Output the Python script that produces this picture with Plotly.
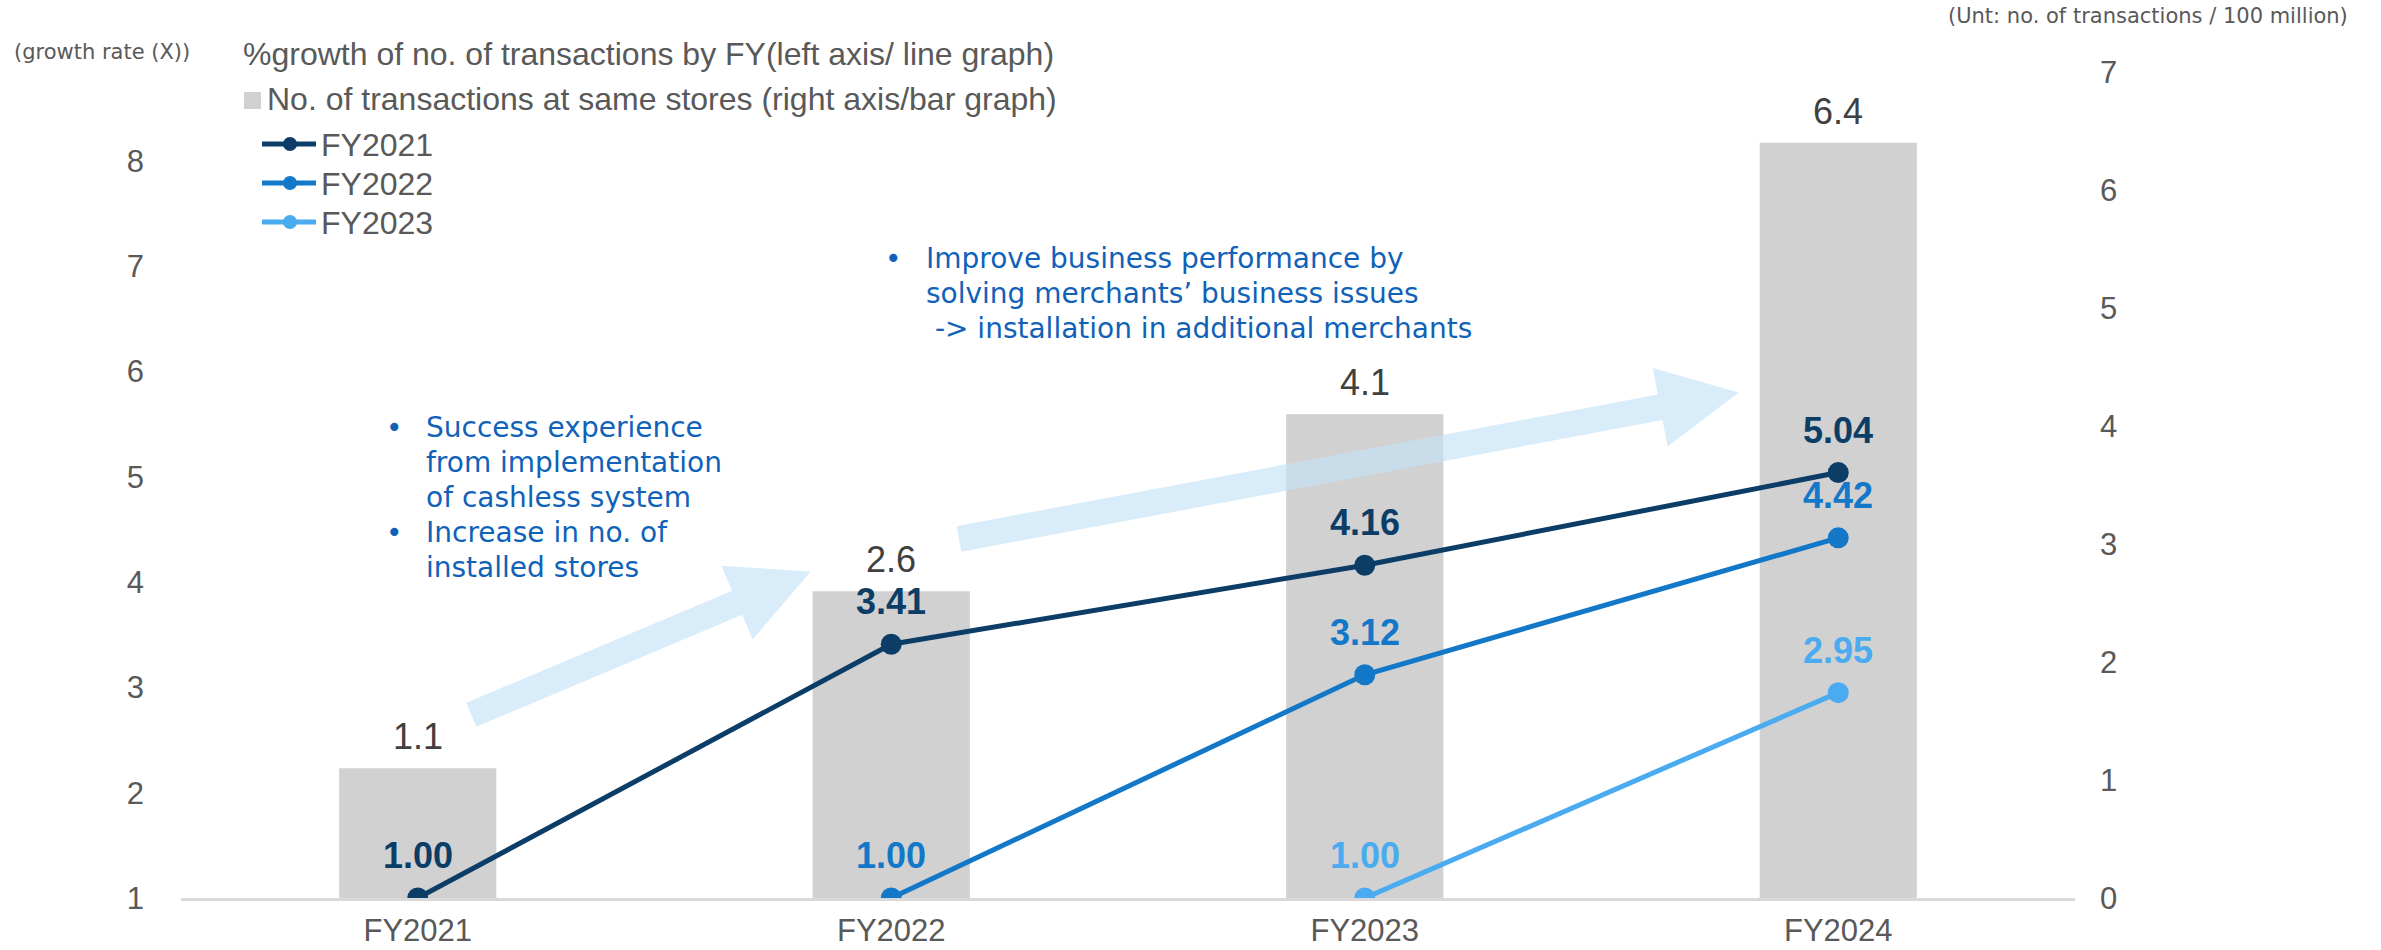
import math
import plotly.graph_objects as go

# ---- data -----------------------------------------------------------------
fiscal_years = ["FY2021", "FY2022", "FY2023", "FY2024"]
same_store_transactions = [1.1, 2.6, 4.1, 6.4]        # right axis, 100 million
growth_fy2021 = [1.00, 3.41, 4.16, 5.04]               # left axis, growth (X)
growth_fy2022 = [None, 1.00, 3.12, 4.42]
growth_fy2023 = [None, None, 1.00, 2.95]

series_names = ["FY2021", "FY2022", "FY2023"]
series_values = [growth_fy2021, growth_fy2022, growth_fy2023]
series_colors = ["#0b3d66", "#1478c8", "#4aabf0"]

left_ticks = [1, 2, 3, 4, 5, 6, 7, 8]
right_ticks = [0, 1, 2, 3, 4, 5, 6, 7]

legend_line_title = "%growth of no. of transactions by FY(left axis/ line graph)"
legend_bar_title = "No. of transactions at same stores (right axis/bar graph)"
left_axis_note = "(growth rate (X))"
right_axis_note = "(Unt: no. of transactions / 100 million)"

note_left = [
    ["Success experience", "from implementation", "of cashless system"],
    ["Increase in no. of", "installed stores"],
]
note_right = [
    ["Improve business performance by", "solving merchants\u2019 business issues",
     "\u00a0-> installation in additional merchants"],
]

# ---- geometry / style -----------------------------------------------------
W, H = 2381, 950
ML, MR, MT, MB = 181, 306, 72, 52
PW, PH = W - ML - MR, H - MT - MB
LEFT_RANGE = [1, 8.844]
RIGHT_RANGE = [0, 7]
X_RANGE = [-0.5, len(fiscal_years) - 0.5]

SANS = "Liberation Sans, Arial, sans-serif"
NOTE_FONT = "DejaVu Sans, Verdana, sans-serif"
GREY_TEXT = "#595959"
BAR_COLOR = "#d1d1d1"
NOTE_BLUE = "#0f62b8"


def paper_x(px):
    return (px - ML) / PW


def paper_y(py):
    return (MT + PH - py) / PH


def idx_to_px(i):
    return ML + (i - X_RANGE[0]) / (X_RANGE[1] - X_RANGE[0]) * PW


def left_to_py(v):
    return MT + PH * (1 - (v - LEFT_RANGE[0]) / (LEFT_RANGE[1] - LEFT_RANGE[0]))


fig = go.Figure()

# bars: same-store transactions on the right-hand axis
fig.add_trace(go.Bar(
    x=fiscal_years, y=same_store_transactions, yaxis="y",
    marker=dict(color=BAR_COLOR, line=dict(width=0)),
    width=0.332, hoverinfo="skip", showlegend=False,
))

# growth lines on the left-hand axis (overlaying, so drawn above the bars)
for name, vals, col in zip(series_names, series_values, series_colors):
    fig.add_trace(go.Scatter(
        x=fiscal_years, y=vals, yaxis="y2", name=name,
        mode="lines+markers",
        line=dict(color=col, width=5),
        marker=dict(color=col, size=21),
        connectgaps=False, showlegend=False,
    ))

annotations = []

# value labels above the bars
for fy, v in zip(fiscal_years, same_store_transactions):
    annotations.append(dict(
        x=fy, y=v, xref="x", yref="y", text=f"{v:.1f}", showarrow=False,
        yanchor="middle", yshift=31.5,
        font=dict(family=SANS, size=36, color="#404040"),
    ))

# value labels above the line markers
for vals, col in zip(series_values, series_colors):
    for fy, v in zip(fiscal_years, vals):
        if v is None:
            continue
        annotations.append(dict(
            x=fy, y=v, xref="x", yref="y2", text=f"<b>{v:.2f}</b>",
            showarrow=False, yanchor="middle", yshift=42.5,
            font=dict(family=SANS, size=36, color=col),
        ))

# axis notes
annotations.append(dict(
    x=paper_x(12), y=paper_y(52), xref="paper", yref="paper",
    text=left_axis_note, showarrow=False, xanchor="left", yanchor="middle",
    font=dict(family=NOTE_FONT, size=21, color=GREY_TEXT),
))
annotations.append(dict(
    x=paper_x(2350), y=paper_y(16), xref="paper", yref="paper",
    text=right_axis_note, showarrow=False, xanchor="right", yanchor="middle",
    font=dict(family=NOTE_FONT, size=21, color=GREY_TEXT),
))

shapes = []

# ---- legend block ---------------------------------------------------------
LEG_F = 32
annotations.append(dict(
    x=paper_x(241), y=paper_y(65 - 0.35 * LEG_F), xref="paper", yref="paper",
    text=legend_line_title, showarrow=False, xanchor="left", yanchor="middle",
    font=dict(family=SANS, size=LEG_F, color=GREY_TEXT),
))
shapes.append(dict(
    type="rect", xref="paper", yref="paper",
    x0=paper_x(244), x1=paper_x(261), y0=paper_y(109), y1=paper_y(92),
    fillcolor=BAR_COLOR, line=dict(width=0),
))
annotations.append(dict(
    x=paper_x(265), y=paper_y(110 - 0.35 * LEG_F), xref="paper", yref="paper",
    text=legend_bar_title, showarrow=False, xanchor="left", yanchor="middle",
    font=dict(family=SANS, size=LEG_F, color=GREY_TEXT),
))
for k, (name, col) in enumerate(zip(series_names, series_colors)):
    cy = 144 + 39 * k
    shapes.append(dict(
        type="line", xref="paper", yref="paper",
        x0=paper_x(262), x1=paper_x(316), y0=paper_y(cy), y1=paper_y(cy),
        line=dict(color=col, width=5),
    ))
    shapes.append(dict(
        type="circle", xref="paper", yref="paper",
        xsizemode="pixel", ysizemode="pixel",
        xanchor=paper_x(290), yanchor=paper_y(cy),
        x0=-7, x1=7, y0=-7, y1=7,
        fillcolor=col, line=dict(width=0),
    ))
    annotations.append(dict(
        x=paper_x(319), y=paper_y(cy + 1), xref="paper", yref="paper",
        text=name, showarrow=False, xanchor="left", yanchor="middle",
        font=dict(family=SANS, size=LEG_F, color=GREY_TEXT),
    ))

# ---- explanatory notes ----------------------------------------------------
NOTE_F = 28
LINE_H = 35


def add_note(groups, text_x, bullet_x, first_baseline):
    base = first_baseline
    for group in groups:
        annotations.append(dict(
            x=paper_x(bullet_x), y=paper_y(base - 0.35 * NOTE_F),
            xref="paper", yref="paper", text="\u2022", showarrow=False,
            xanchor="center", yanchor="middle",
            font=dict(family=NOTE_FONT, size=NOTE_F, color=NOTE_BLUE),
        ))
        for line in group:
            annotations.append(dict(
                x=paper_x(text_x), y=paper_y(base - 0.35 * NOTE_F),
                xref="paper", yref="paper", text=line, showarrow=False,
                xanchor="left", yanchor="middle",
                font=dict(family=NOTE_FONT, size=NOTE_F, color=NOTE_BLUE),
            ))
            base += LINE_H


add_note(note_left, 424, 394, 437)
add_note(note_right, 924, 893, 268)

# ---- trend arrows (tail/tip given as category index, left-axis value) ------
trend_arrows = [
    ((0.113, 2.74), (0.830, 4.10)),
    ((1.143, 4.41), (2.790, 5.80)),
]


def arrow_shape(tail, tip, shaft_half=13.0, head_half=40.0, head_len=80.0):
    tx, ty = idx_to_px(tail[0]), left_to_py(tail[1])
    hx, hy = idx_to_px(tip[0]), left_to_py(tip[1])
    dx, dy = hx - tx, hy - ty
    ln = math.hypot(dx, dy)
    ux, uy = dx / ln, dy / ln
    nx, ny = -uy, ux
    bx, by = hx - ux * head_len, hy - uy * head_len
    pts = [
        (tx + nx * shaft_half, ty + ny * shaft_half),
        (bx + nx * shaft_half, by + ny * shaft_half),
        (bx + nx * head_half, by + ny * head_half),
        (hx, hy),
        (bx - nx * head_half, by - ny * head_half),
        (bx - nx * shaft_half, by - ny * shaft_half),
        (tx - nx * shaft_half, ty - ny * shaft_half),
    ]
    path = "M " + " L ".join(f"{paper_x(px):.5f},{paper_y(py):.5f}" for px, py in pts) + " Z"
    return dict(type="path", xref="paper", yref="paper", path=path,
                fillcolor="#c5e2f8", opacity=0.65, line=dict(width=0),
                layer="above")


for tail, tip in trend_arrows:
    shapes.append(arrow_shape(tail, tip))

fig.update_layout(
    width=W, height=H,
    margin=dict(l=ML, r=MR, t=MT, b=MB, pad=0, autoexpand=False),
    paper_bgcolor="white", plot_bgcolor="white",
    showlegend=False,
    bargap=0.668,
    xaxis=dict(
        range=X_RANGE, type="category", automargin=False,
        showline=True, linecolor="#d9d9d9", linewidth=3,
        showgrid=False, zeroline=False, ticks="",
        ticklabelstandoff=3,
        tickfont=dict(family=SANS, size=31, color=GREY_TEXT),
    ),
    yaxis=dict(
        side="right", range=RIGHT_RANGE, tickvals=right_ticks, automargin=False,
        showgrid=False, zeroline=False, showline=False, ticks="",
        ticklabelstandoff=24,
        tickfont=dict(family=SANS, size=31, color=GREY_TEXT),
    ),
    yaxis2=dict(
        overlaying="y", side="left", range=LEFT_RANGE, tickvals=left_ticks,
        automargin=False,
        showgrid=False, zeroline=False, showline=False, ticks="",
        ticklabelstandoff=36,
        tickfont=dict(family=SANS, size=31, color=GREY_TEXT),
    ),
    annotations=annotations,
    shapes=shapes,
)

fig.write_html("out.html")
